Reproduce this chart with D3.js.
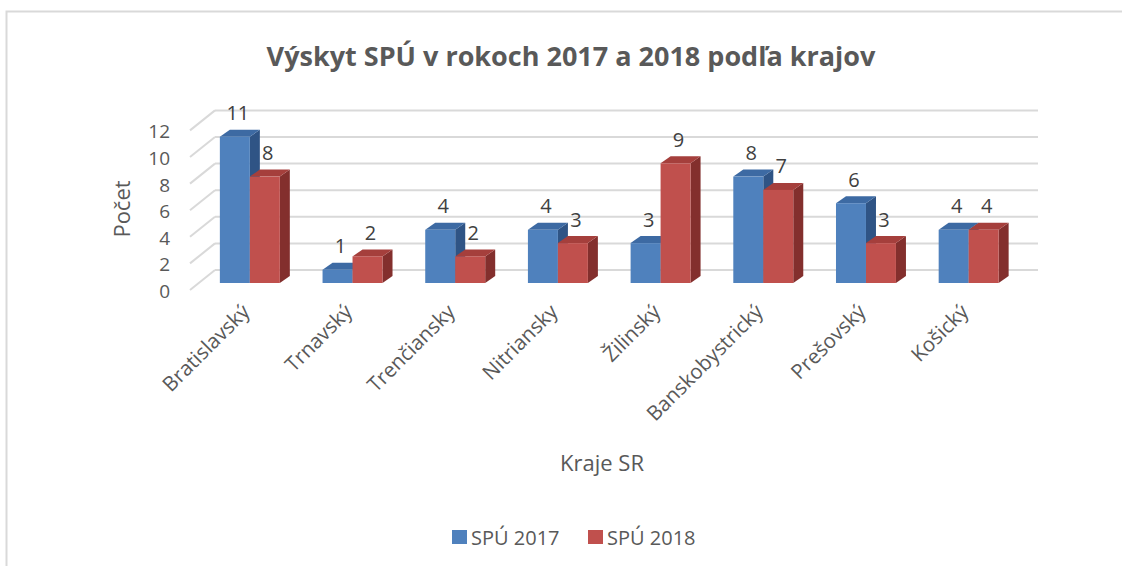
<!DOCTYPE html>
<html><head><meta charset="utf-8">
<script src="https://cdn.jsdelivr.net/npm/d3@7"></script>
<style>body{margin:0;background:#fff}svg{display:block}text{font-family:"Open Sans","Noto Sans",sans-serif}</style>
</head><body>
<svg id="c" width="1122" height="566"></svg>
<script>
const categories = ["Bratislavský","Trnavský","Trenčiansky","Nitriansky","Žilinský","Banskobystrický","Prešovský","Košický"];
const series = ["SPÚ 2017","SPÚ 2018"];
const values2017 = [11,1,4,4,3,8,6,4];
const values2018 = [8,2,2,3,9,7,3,4];
const yTicks = [0,2,4,6,8,10,12];
const title = "Výskyt SPÚ v rokoch 2017 a 2018 podľa krajov";
const yTitle = "Počet";
const xTitle = "Kraje SR";

const svg = d3.select("#c");
// chart area border
svg.append("path").attr("d","M6.5,566 L6.5,11.5 L1122,11.5").attr("fill","none").attr("stroke","#d9d9d9").attr("stroke-width",2);

const x = d3.scaleBand().domain(categories).range([198.5,1020]).paddingInner(0.416).paddingOuter(0.208);
const xs = d3.scaleBand().domain(series).range([0,x.bandwidth()]);
const y = d3.scaleLinear().domain([0,12]).range([283,123.4]);
const colors = {
  "SPÚ 2017":{front:"#4f81bd",top:"#3d6aa3",side:"#2f5485"},
  "SPÚ 2018":{front:"#c0504d",top:"#a53f3c",side:"#832f2d"}
};
const DX=10, DY=-7;

// gridlines (back wall) and left floor diagonals
const grid = svg.append("g");
yTicks.forEach(v=>{
  grid.append("line").attr("x1",215).attr("x2",1038).attr("y1",y(v)-13).attr("y2",y(v)-13)
    .attr("stroke","#d9d9d9").attr("stroke-width",2);
  grid.append("line").attr("x1",190).attr("x2",215).attr("y1",y(v)+7).attr("y2",y(v)-13)
    .attr("stroke","#d9d9d9").attr("stroke-width",2);
});
// y tick labels
svg.append("g").selectAll("text").data(yTicks).join("text")
  .attr("x",170).attr("y",v=>y(v)+8).attr("text-anchor","end").attr("dominant-baseline","central")
  .attr("font-size",19).attr("fill","#595959").text(v=>v);

// bars
const rows = categories.map((c,i)=>({c, vals:[values2017[i],values2018[i]]}));
const bars = svg.append("g");
rows.forEach(r=>{
  series.forEach((s,j)=>{
    const v=r.vals[j];
    const x0=x(r.c)+xs(s), x1=x0+xs.bandwidth(), yt=y(v), yb=y(0);
    const col=colors[s];
    const g=bars.append("g");
    g.append("path").attr("d",`M${x1},${yt}L${x1+DX},${yt+DY}L${x1+DX},${yb+DY}L${x1},${yb}Z`).attr("fill",col.side);
    g.append("path").attr("d",`M${x0},${yt}L${x0+DX},${yt+DY}L${x1+DX},${yt+DY}L${x1},${yt}Z`).attr("fill",col.top);
    g.append("rect").attr("x",x0).attr("y",yt).attr("width",x1-x0).attr("height",yb-yt).attr("fill",col.front);
  });
});
// data labels
rows.forEach(r=>{
  series.forEach((s,j)=>{
    const v=r.vals[j];
    svg.append("text").attr("x",x(r.c)+xs(s)+xs.bandwidth()/2+3).attr("y",y(v)-24)
      .attr("text-anchor","middle").attr("dominant-baseline","central")
      .attr("font-size",20).attr("fill","#404040").text(v);
  });
});
// x labels
svg.append("g").selectAll("text").data(categories).join("text")
  .attr("transform",c=>`translate(${x(c)+x.bandwidth()/2-4},${308}) rotate(-45)`)
  .attr("text-anchor","end").attr("dy","0.35em")
  .attr("font-size",20.5).attr("fill","#595959").text(c=>c);

// titles
svg.append("text").attr("x",571).attr("y",55).attr("text-anchor","middle").attr("dominant-baseline","central")
  .attr("font-size",27).attr("font-weight","bold").attr("fill","#595959").text(title);
svg.append("text").attr("transform","translate(121,209) rotate(-90)").attr("text-anchor","middle").attr("dominant-baseline","central")
  .attr("font-size",22).attr("fill","#595959").text(yTitle);
svg.append("text").attr("x",602).attr("y",462).attr("text-anchor","middle").attr("dominant-baseline","central")
  .attr("font-size",22).attr("fill","#595959").text(xTitle);

// legend
const leg = svg.append("g");
const legX=[452,588];
series.forEach((s,j)=>{
  leg.append("rect").attr("x",legX[j]).attr("y",530).attr("width",15).attr("height",14).attr("fill",colors[s].front);
  leg.append("text").attr("x",legX[j]+19).attr("y",537).attr("dominant-baseline","central")
    .attr("font-size",20).attr("fill","#595959").text(s);
});
</script>
</body></html>
